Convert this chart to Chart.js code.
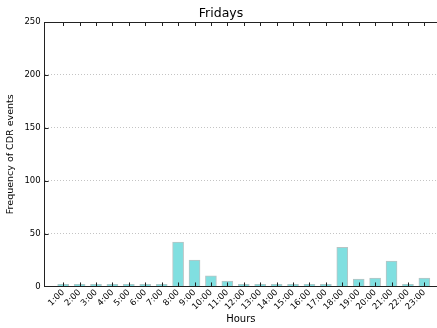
<!DOCTYPE html>
<html lang="en">
<head>
  <meta charset="UTF-8">
  <title>Fridays</title>
  <style>
    body {
      margin: 0;
      background: #fff;
      overflow: hidden;
    }
    #wrap {
      width: 437px;
      height: 328px;
    }
  </style>
</head>
<body>
  <div id="wrap"><canvas id="chart"></canvas></div>

  <script src="https://cdn.jsdelivr.net/npm/chart.js"></script>
  <script>
    // Hours on the x axis and CDR event counts
    const hours = [1, 2, 3, 4, 5, 6, 7, 8, 9, 10, 11, 12, 13, 14, 15, 16, 17, 18, 19, 20, 21, 22, 23];
    const hourLabels = hours.map(h => h + ':00');
    const events = [2, 2, 2, 2, 2, 2, 2, 42, 25, 10, 5, 2, 2, 2, 2, 2, 2, 37, 7, 8, 24, 2, 8];
    const yTicks = [0, 50, 100, 150, 200, 250];

    const font = "'DejaVu Sans', sans-serif";

    // matplotlib-style inward ticks + top spine
    const frame = {
      id: 'frame',
      afterDatasetsDraw(chart) {
        const ctx = chart.ctx;
        const area = chart.chartArea;
        const x = chart.scales.x;
        const y = chart.scales.y;
        ctx.save();
        ctx.strokeStyle = '#222';
        ctx.lineWidth = 1;
        ctx.beginPath();
        ctx.moveTo(area.left, area.top + 0.5);
        ctx.lineTo(area.right, area.top + 0.5);
        hours.forEach(h => {
          const px = Math.round(x.getPixelForValue(h)) + 0.5;
          ctx.moveTo(px, area.bottom);
          ctx.lineTo(px, area.bottom - 4);
          ctx.moveTo(px, area.top);
          ctx.lineTo(px, area.top + 4);
        });
        yTicks.forEach(v => {
          const py = Math.round(y.getPixelForValue(v)) + 0.5;
          ctx.moveTo(area.left, py);
          ctx.lineTo(area.left + 4, py);
        });
        ctx.stroke();
        ctx.restore();
      }
    };

    new Chart(document.getElementById('chart').getContext('2d'), {
      type: 'bar',
      data: {
        datasets: [{
          data: hours.map((h, i) => ({ x: h, y: events[i] })),
          backgroundColor: '#80dfe0',
          borderColor: '#b8c4c4',
          borderWidth: 1,
          barThickness: 11
        }]
      },
      options: {
        responsive: true,
        maintainAspectRatio: false,
        animation: false,
        layout: { padding: { top: 0, right: 0, left: 5, bottom: 0 } },
        plugins: {
          legend: { display: false },
          tooltip: { enabled: false },
          title: {
            display: true,
            text: 'Fridays',
            color: '#000',
            font: { family: font, size: 12.5, weight: 'normal' },
            padding: { top: 6, bottom: 1 }
          }
        },
        scales: {
          x: {
            type: 'linear',
            min: 0.39,
            max: 23.25,
            afterBuildTicks(scale) {
              scale.ticks = hours.map(h => ({ value: h }));
            },
            ticks: {
              autoSkip: false,
              maxRotation: 45,
              minRotation: 45,
              padding: 1,
              color: '#000',
              font: { family: font, size: 8.5 },
              callback: (v) => hourLabels[hours.indexOf(v)]
            },
            grid: { display: false, drawTicks: false },
            border: { color: '#222', width: 1 },
            title: {
              display: true,
              text: 'Hours',
              color: '#000',
              font: { family: font, size: 10 },
              padding: { top: 0, bottom: 3 }
            }
          },
          y: {
            min: 0,
            max: 250,
            afterBuildTicks(scale) {
              scale.ticks = yTicks.map(v => ({ value: v }));
            },
            ticks: {
              padding: 4,
              color: '#000',
              font: { family: font, size: 8.5 }
            },
            grid: {
              drawTicks: false,
              color: (c) => (c.tick && (c.tick.value === 0 || c.tick.value === 250)) ? 'rgba(0,0,0,0)' : '#c4c4c4',
              lineWidth: 1
            },
            border: { color: '#222', width: 1, dash: [1, 2] },
            title: {
              display: true,
              text: 'Frequency of CDR events',
              color: '#000',
              font: { family: font, size: 9.5 },
              padding: { top: 0, bottom: 4 }
            }
          }
        }
      },
      plugins: [frame]
    });
  </script>
</body>
</html>
